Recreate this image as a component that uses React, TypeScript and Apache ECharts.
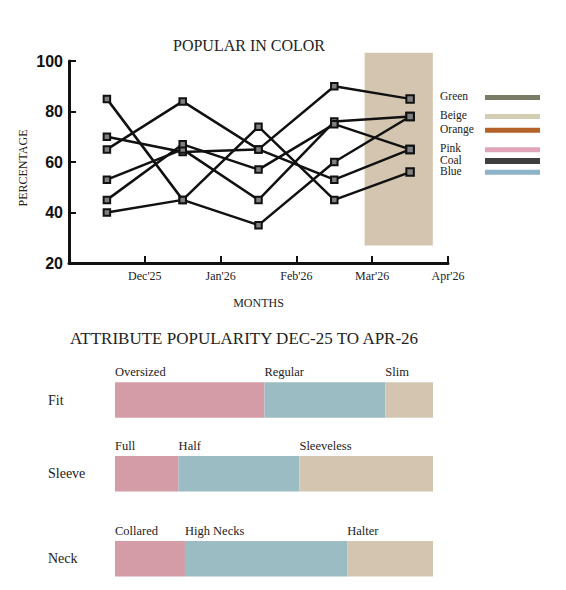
import React, { useEffect, useRef } from "react";
import * as echarts from "echarts";

// ---- Line chart data ----
const monthLabels = ["", "Dec'25", "Jan'26", "Feb'26", "Mar'26", "Apr'26"];
const pointPositions = [0.5, 1.5, 2.5, 3.5, 4.5];
const seriesA = [85, 45, 74, 45, 56];
const seriesB = [40, 45, 35, 60, 78];
const seriesC = [65, 84, 65, 90, 85];
const seriesD = [70, 64, 65, 53, 65];
const seriesE = [53, 65, 45, 76, 78];
const seriesF = [45, 67, 57, 75, 65];
const lineSeries = [seriesA, seriesB, seriesC, seriesD, seriesE, seriesF];
const highlightX = [3.9, 4.8];
const highlightY = [26.9, 103.3];

// ---- Legend ----
const legendNames = ["Green", "Beige", "Orange", "Pink", "Coal", "Blue"];
const legendColors = ["#7b7c68", "#d3cdb4", "#b5612a", "#e0a5b8", "#3e3e3e", "#8db3c9"];

// ---- Attribute bars ----
const attributes = ["Fit", "Sleeve", "Neck"];
const segmentNames = [
  ["Oversized", "Regular", "Slim"],
  ["Full", "Half", "Sleeveless"],
  ["Collared", "High Necks", "Halter"],
];
const segmentValues = [
  [47, 38, 15],
  [20, 38, 42],
  [22, 51, 27],
];
const segmentColors = ["#d39ca6", "#9bbcc3", "#d4c5b1"];

const SERIF = "'Liberation Serif', 'Times New Roman', serif";
const SANS = "'Liberation Sans', Arial, sans-serif";
const TEXT = "#222";

// layout constants
const legendTextY = [96, 115, 128.7, 148.3, 159.6, 170.7];
const barTops = [382.3, 456, 541];
const barHeight = 35.5;

export default function App() {
  const ref = useRef<HTMLDivElement>(null);
  useEffect(() => {
    if (!ref.current) return;
    const chart = echarts.init(ref.current, null, { renderer: "svg" });

    const grids: any[] = [{ left: 69, right: 118, top: 61, bottom: 327 }];
    const xAxes: any[] = [
      {
        type: "value",
        gridIndex: 0,
        min: 0,
        max: 5,
        interval: 1,
        splitLine: { show: false },
        axisLine: { lineStyle: { color: "#111", width: 3 } },
        axisTick: { inside: true, length: 7, lineStyle: { color: "#111", width: 2 } },
        axisLabel: {
          formatter: (v: number) => monthLabels[Math.round(v)] ?? "",
          fontFamily: SERIF,
          fontSize: 12,
          color: TEXT,
          margin: 7,
        },
        name: "MONTHS",
        nameLocation: "middle",
        nameGap: 34,
        nameTextStyle: { fontFamily: SERIF, fontSize: 12, color: TEXT },
      },
    ];
    const yAxes: any[] = [
      {
        type: "value",
        gridIndex: 0,
        min: 20,
        max: 100,
        interval: 20,
        splitLine: { show: false },
        axisLine: { show: true, lineStyle: { color: "#111", width: 3 } },
        axisTick: { show: true, inside: true, length: 7, lineStyle: { color: "#111", width: 2 } },
        axisLabel: {
          fontFamily: SANS,
          fontWeight: "bold",
          fontSize: 16,
          color: "#111",
          margin: 6,
        },
      },
    ];

    const series: any[] = [
      {
        type: "custom",
        xAxisIndex: 0,
        yAxisIndex: 0,
        clip: false,
        z: 1,
        silent: true,
        data: [[highlightX[0], highlightY[0], highlightX[1], highlightY[1]]],
        encode: { x: [0, 2], y: [1, 3] },
        renderItem: (params: any, api: any) => {
          const p0 = api.coord([api.value(0), api.value(3)]);
          const p1 = api.coord([api.value(2), api.value(1)]);
          return {
            type: "rect",
            shape: { x: p0[0], y: p0[1], width: p1[0] - p0[0], height: p1[1] - p0[1] },
            style: { fill: "#d4c5b0" },
          };
        },
      },
    ];

    lineSeries.forEach((vals, si) => {
      series.push({
        type: "line",
        name: "s" + si,
        xAxisIndex: 0,
        yAxisIndex: 0,
        z: 3,
        data: vals.map((v, i) => [pointPositions[i], v]),
        symbol: "rect",
        symbolSize: (_v: any, p: any) => (p.dataIndex === vals.length - 1 ? 7.5 : 6.5),
        showAllSymbol: true,
        lineStyle: { color: "#111", width: 2.5 },
        itemStyle: { color: "#808080", borderColor: "#111", borderWidth: 2 },
      });
    });

    attributes.forEach((attr, gi) => {
      const idx = gi + 1;
      grids.push({ left: 115, right: 566 - 433, top: barTops[gi], height: barHeight });
      xAxes.push({
        type: "value",
        gridIndex: idx,
        min: 0,
        max: 100,
        show: false,
      });
      yAxes.push({
        type: "category",
        gridIndex: idx,
        data: [attr],
        axisLine: { show: false },
        axisTick: { show: false },
        axisLabel: {
          align: "left",
          margin: 67,
          fontFamily: SERIF,
          fontSize: 14,
          color: TEXT,
        },
      });
      segmentValues[gi].forEach((val, sj) => {
        series.push({
          type: "bar",
          xAxisIndex: idx,
          yAxisIndex: idx,
          stack: "stack" + gi,
          barWidth: "100%",
          barCategoryGap: 0,
          data: [val],
          itemStyle: { color: segmentColors[sj] },
          label: {
            show: true,
            position: [0, -10],
            align: "left",
            verticalAlign: "middle",
            formatter: () => segmentNames[gi][sj],
            fontFamily: SERIF,
            fontSize: 12.5,
            color: TEXT,
          },
        });
      });
    });

    const graphic: any[] = [
      {
        type: "text",
        x: 249,
        y: 45,
        style: {
          text: "POPULAR IN COLOR",
          fontFamily: SERIF,
          fontSize: 16,
          fill: TEXT,
          align: "center",
          verticalAlign: "middle",
        },
      },
      {
        type: "text",
        x: 22.5,
        y: 168,
        rotation: Math.PI / 2,
        style: {
          text: "PERCENTAGE",
          fontFamily: SERIF,
          fontSize: 12,
          fill: TEXT,
          align: "center",
          verticalAlign: "middle",
        },
      },
      {
        type: "text",
        x: 244,
        y: 338,
        style: {
          text: "ATTRIBUTE POPULARITY DEC-25 TO APR-26",
          fontFamily: SERIF,
          fontSize: 17,
          fill: TEXT,
          align: "center",
          verticalAlign: "middle",
        },
      },
    ];
    legendNames.forEach((name, i) => {
      const h = name === "Coal" ? 6 : 5;
      graphic.push({
        type: "text",
        x: 440,
        y: legendTextY[i],
        style: {
          text: name,
          fontFamily: SERIF,
          fontSize: 11.5,
          lineHeight: 10,
          fill: TEXT,
          align: "left",
          verticalAlign: "middle",
        },
      });
      graphic.push({
        type: "rect",
        shape: { x: 485, y: legendTextY[i] + 1.5 - h / 2, width: 55, height: h },
        style: { fill: legendColors[i] },
      });
    });

    chart.setOption({
      animation: false,
      backgroundColor: "#fff",
      grid: grids,
      xAxis: xAxes,
      yAxis: yAxes,
      series,
      graphic,
    });
    return () => chart.dispose();
  }, []);

  return (
    <div
      ref={ref}
      style={{ position: "fixed", left: 0, top: 0, width: 566, height: 590 }}
    />
  );
}
